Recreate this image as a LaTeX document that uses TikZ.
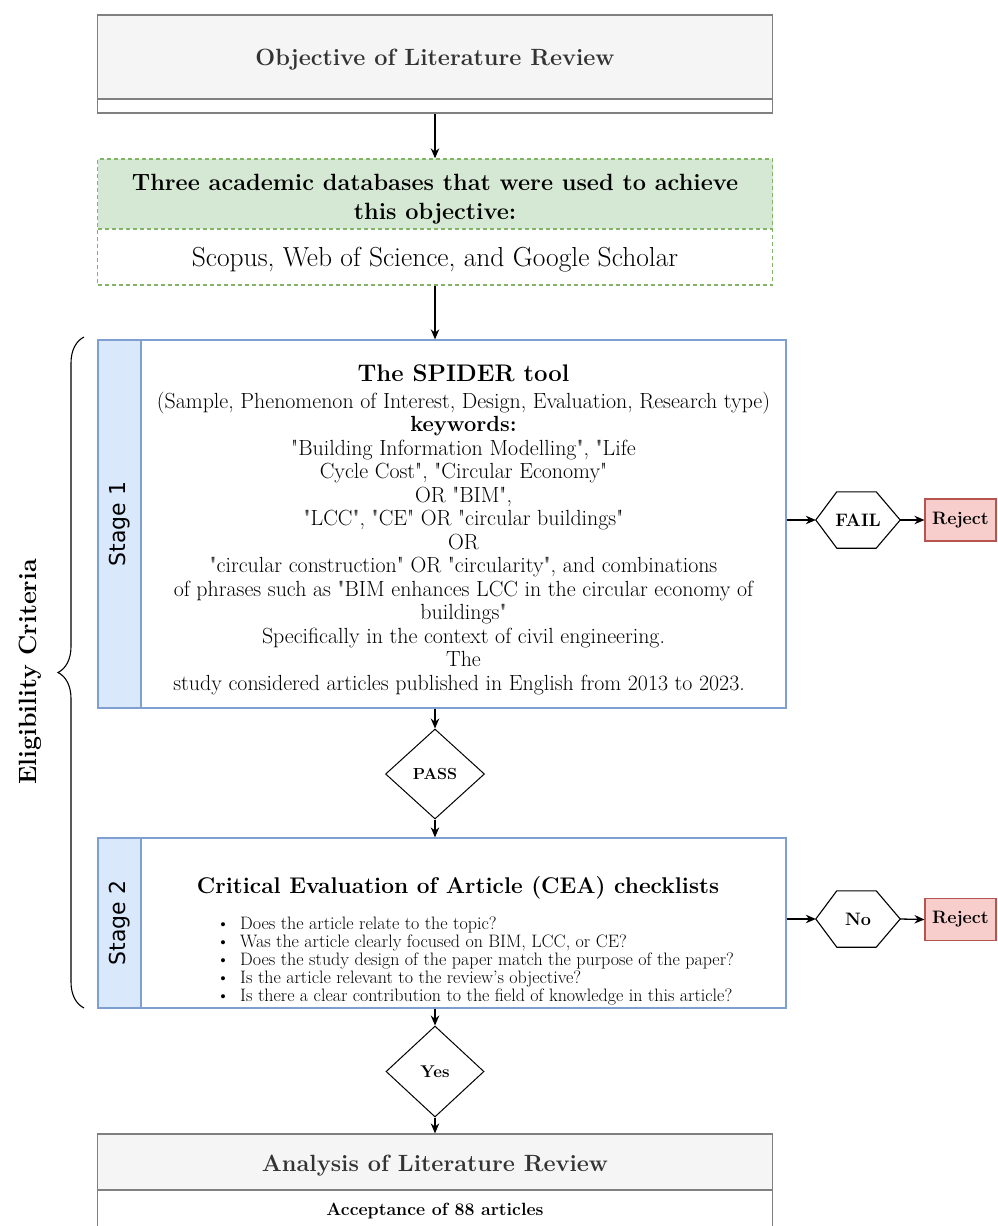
\documentclass[tikz,border=0pt]{standalone}
\usepackage{fontspec}
\setmainfont{Latin Modern Roman}[Ligatures=TeXOff]
\newfontfamily\stagefont{DejaVu Sans}
\usetikzlibrary{shapes.geometric,arrows.meta,decorations.pathreplacing}
\definecolor{grayfill}{HTML}{F5F5F5}
\definecolor{graystroke}{HTML}{808080}
\definecolor{graytext}{HTML}{333333}
\definecolor{greenfill}{HTML}{D5E8D4}
\definecolor{greenstroke}{HTML}{82B366}
\definecolor{bluefill}{HTML}{DAE8FC}
\definecolor{bluestroke}{HTML}{7E9FD0}
\definecolor{redfill}{HTML}{F8CECC}
\definecolor{redstroke}{HTML}{B85450}
\newcommand\fsz[1]{\fontsize{#1}{#1}\selectfont}
\begin{document}
\begin{tikzpicture}[x=1pt,y=-1pt,
  every node/.style={inner sep=0pt},
  graybox/.style={draw=graystroke,line width=1.3pt},
  greenbox/.style={draw=greenstroke,line width=1.3pt,dash pattern=on 4pt off 3pt},
  bluebox/.style={draw=bluestroke,line width=1.3pt},
  flow/.style={line width=1.3pt,-{Stealth[length=10pt,width=8.5pt]}},
  txt/.style={anchor=base,align=center},
  decision/.style={diamond,draw,line width=1pt,font=\bfseries\fsz{16}},
  hexbox/.style={minimum width=84pt,minimum height=56pt,font=\bfseries\fsz{18}},
  hexline/.style={draw,line width=1.1pt,line join=miter},
  rejectbox/.style={draw=redstroke,fill=redfill,line width=1.1pt,minimum width=71pt,minimum height=42pt,font=\bfseries\fsz{18}}
]
\useasboundingbox (0,0) rectangle (997,1226);
\clip (0,0) rectangle (997,1226);

% objective box
\fill[grayfill] (97.5,15) rectangle (772.5,99);
\node[graybox,minimum width=675pt,minimum height=98pt] (obj) at (435,64) {};
\draw[graybox] (97.5,99) -- (772.5,99);
\node[txt,font=\bfseries\fsz{23.5},text=graytext] (objt) at (435,65) {Objective of Literature Review};

% databases box
\fill[greenfill] (97.5,159) rectangle (772.5,229);
\node[greenbox,minimum width=675pt,minimum height=126pt] (db) at (435,222) {};
\draw[greenbox] (97.5,229) -- (772.5,229);
\node[txt,font=\bfseries\fsz{23.5}] (dbt1) at (435,190) {Three academic databases that were used to achieve};
\node[txt,font=\bfseries\fsz{23.5}] (dbt2) at (435,219) {this objective:};
\node[txt,font=\fsz{27.5}] (dbt3) at (435,266) {Scopus, Web of Science, and Google Scholar};

% stage 1
\fill[bluefill] (98,340) rectangle (141,708);
\node[bluebox,minimum width=688pt,minimum height=368pt] (s1) at (442,524) {};
\draw[bluebox] (141,340) -- (141,708);
\node[rotate=90,font=\stagefont\fsz{22}] (s1lab) at (119.5,524) {Stage 1};
\node[txt,font=\bfseries\fsz{24}] (s1title) at (463.5,381) {The SPIDER tool};
\foreach \t [count=\i from 0] in {
  {(Sample, Phenomenon of Interest, Design, Evaluation, Research type)},
  {\textbf{keywords:}},
  {"Building Information Modelling", "Life},
  {Cycle Cost", "Circular Economy"},
  {OR "BIM",},
  {"LCC", "CE" OR "circular buildings"},
  {OR},
  {"circular construction" OR "circularity", and combinations},
  {of phrases such as "BIM enhances LCC in the circular economy of},
  {buildings"},
  {Specifically in the context of civil engineering.},
  {The},
  {study considered articles published in English from 2013 to 2023.}
} \node[txt,font=\fsz{21.9}] (s1t\i) at (463.5,408+23.5*\i) {\t};

% stage 2
\fill[bluefill] (98,838) rectangle (141,1008);
\node[bluebox,minimum width=688pt,minimum height=170pt] (s2) at (442,923) {};
\draw[bluebox] (141,838) -- (141,1008);
\node[rotate=90,font=\stagefont\fsz{22}] (s2lab) at (119.5,923) {Stage 2};
\node[txt,font=\bfseries\fsz{22.7}] (s2title) at (458,893) {Critical Evaluation of Article (CEA) checklists};
\foreach \t [count=\i from 0] in {
  {Does the article relate to the topic?},
  {Was the article clearly focused on BIM, LCC, or CE?},
  {Does the study design of the paper match the purpose of the paper?},
  {Is the article relevant to the review’s objective?},
  {Is there a clear contribution to the field of knowledge in this article?}
} {
  \node[anchor=base,font=\fsz{18}] (s2b\i) at (223,929+18*\i) {\textbullet};
  \node[anchor=base west,font=\fsz{18}] (s2t\i) at (240,929+18*\i) {\t};
}

% analysis box
\fill[grayfill] (97.5,1134) rectangle (772.5,1190);
\node[graybox,minimum width=675pt,minimum height=116pt] (ana) at (435,1192) {};
\draw[graybox] (97.5,1190) -- (772.5,1190);
\node[txt,font=\bfseries\fsz{23.5},text=graytext] (anat) at (435,1171) {Analysis of Literature Review};
\node[txt,font=\bfseries\fsz{17.7}] (acc) at (435,1215) {Acceptance of 88 articles};

% decisions
\node[decision,minimum width=99pt,minimum height=90pt] (pass) at (435,774) {PASS};
\node[decision,minimum width=98pt,minimum height=91pt,font=\bfseries\fsz{17}] (yes) at (435,1071.5) {Yes};

\node[hexbox] (fail) at (858,520) {FAIL};
\draw[hexline] (fail.west) -- ([xshift=21pt]fail.north west) -- ([xshift=-24pt]fail.north east) -- (fail.east) -- ([xshift=-24pt]fail.south east) -- ([xshift=21pt]fail.south west) -- cycle;
\node[hexbox] (no) at (858,919) {No};
\draw[hexline] (no.west) -- ([xshift=21pt]no.north west) -- ([xshift=-24pt]no.north east) -- (no.east) -- ([xshift=-24pt]no.south east) -- ([xshift=21pt]no.south west) -- cycle;
\node[rejectbox] (rej1) at (960.5,520) {Reject};
\node[rejectbox] (rej2) at (960.5,919.5) {Reject};

% brace and label
\draw[decorate,decoration={brace,amplitude=26pt},line width=1.1pt] (84,1008) -- (84,337);
\node[rotate=90,font=\bfseries\fsz{25}] (elig) at (30,672) {Eligibility Criteria};

% connectors
\draw[flow] (obj.south) -- (db.north);
\draw[flow] (db.south) -- (db.south |- s1.north);
\draw[flow] (pass.north |- s1.south) -- (pass.north);
\draw[flow] (pass.south) -- (pass.south |- s2.north);
\draw[flow] (yes.north |- s2.south) -- (yes.north);
\draw[flow] (yes.south) -- (yes.south |- ana.north);
\draw[flow] (s1.east |- fail.west) -- (fail.west);
\draw[flow] (fail.east) -- (rej1.west);
\draw[flow] (s2.east |- no.west) -- (no.west);
\draw[flow] (no.east) -- (rej2.west);
\end{tikzpicture}
\end{document}
